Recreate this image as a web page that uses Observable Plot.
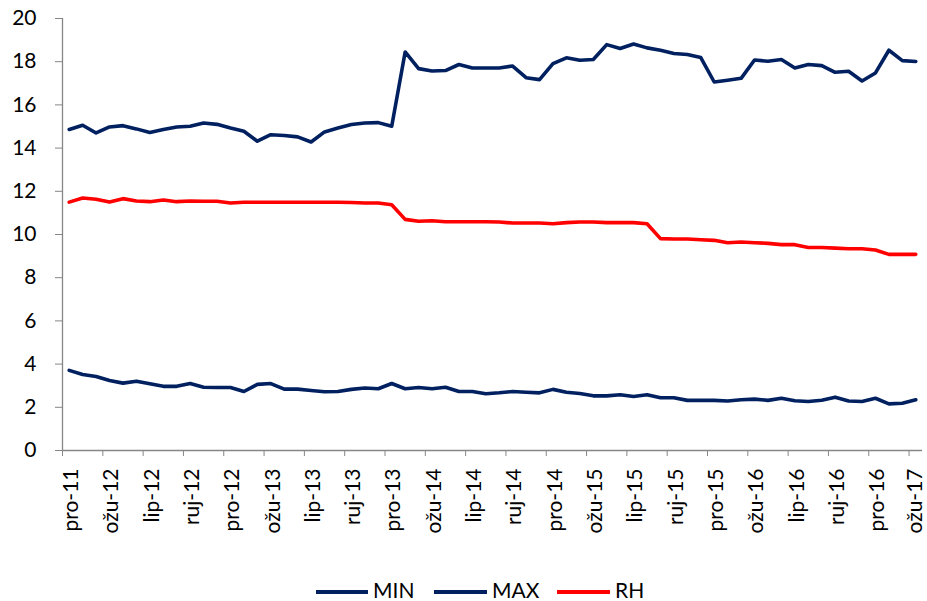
<!DOCTYPE html>
<html>
<head>
<meta charset="utf-8">
<script src="https://cdn.jsdelivr.net/npm/d3@7"></script>
<script src="https://cdn.jsdelivr.net/npm/@observablehq/plot@0.6"></script>
<style>
  html, body { margin: 0; padding: 0; background: #fff; }
  body { position: relative; width: 927px; height: 601px; overflow: hidden; font-family: Lato, sans-serif; }
  #chart svg { display: block; }
  .lg-line { position: absolute; height: 4px; top: 590px; }
  .lg-text { position: absolute; top: 576px; font-size: 21px; line-height: 28px; color: #000; }
</style>
</head>
<body>
<div id="chart"></div>
<div class="lg-line" style="left:316px;width:52px;background:#002060"></div>
<div class="lg-text" style="left:373px">MIN</div>
<div class="lg-line" style="left:434px;width:53px;background:#002060"></div>
<div class="lg-text" style="left:492px">MAX</div>
<div class="lg-line" style="left:557px;width:53px;background:#ff0000"></div>
<div class="lg-text" style="left:615px">RH</div>
<script>
const months = [
  "pro-11",
  "sij-12","velj-12","ožu-12","tra-12","svi-12","lip-12","srp-12","kol-12","ruj-12","lis-12","stu-12","pro-12",
  "sij-13","velj-13","ožu-13","tra-13","svi-13","lip-13","srp-13","kol-13","ruj-13","lis-13","stu-13","pro-13",
  "sij-14","velj-14","ožu-14","tra-14","svi-14","lip-14","srp-14","kol-14","ruj-14","lis-14","stu-14","pro-14",
  "sij-15","velj-15","ožu-15","tra-15","svi-15","lip-15","srp-15","kol-15","ruj-15","lis-15","stu-15","pro-15",
  "sij-16","velj-16","ožu-16","tra-16","svi-16","lip-16","srp-16","kol-16","ruj-16","lis-16","stu-16","pro-16",
  "sij-17","velj-17","ožu-17"
];

const maxValues = [
  14.86, 15.06, 14.70, 14.98, 15.04, 14.89, 14.72, 14.86, 14.98, 15.01,
  15.16, 15.10, 14.93, 14.78, 14.32, 14.62, 14.58, 14.52, 14.28, 14.75,
  14.93, 15.09, 15.16, 15.18, 15.01, 18.45, 17.68, 17.57, 17.59, 17.87,
  17.71, 17.71, 17.71, 17.80, 17.26, 17.17, 17.91, 18.18, 18.07, 18.10,
  18.79, 18.61, 18.82, 18.64, 18.53, 18.38, 18.33, 18.19, 17.06, 17.14,
  17.23, 18.08, 18.02, 18.10, 17.71, 17.87, 17.82, 17.51, 17.56, 17.11,
  17.48, 18.53, 18.05, 18.01
];

const minValues = [
  3.71, 3.52, 3.43, 3.24, 3.12, 3.21, 3.09, 2.97, 2.97, 3.10,
  2.93, 2.92, 2.92, 2.73, 3.06, 3.10, 2.84, 2.84, 2.78, 2.72,
  2.73, 2.83, 2.89, 2.86, 3.10, 2.86, 2.92, 2.86, 2.93, 2.73,
  2.73, 2.63, 2.67, 2.73, 2.70, 2.67, 2.83, 2.70, 2.64, 2.53,
  2.53, 2.58, 2.50, 2.58, 2.44, 2.44, 2.32, 2.32, 2.32, 2.29,
  2.35, 2.38, 2.32, 2.42, 2.30, 2.27, 2.33, 2.47, 2.29, 2.27,
  2.42, 2.16, 2.19, 2.35
];

const rhValues = [
  11.50, 11.69, 11.63, 11.50, 11.66, 11.55, 11.52, 11.60, 11.52, 11.55,
  11.54, 11.54, 11.46, 11.49, 11.49, 11.49, 11.49, 11.49, 11.49, 11.49,
  11.49, 11.48, 11.46, 11.46, 11.38, 10.70, 10.61, 10.64, 10.59, 10.59,
  10.59, 10.59, 10.58, 10.53, 10.53, 10.53, 10.50, 10.55, 10.58, 10.58,
  10.55, 10.55, 10.55, 10.50, 9.81, 9.79, 9.79, 9.76, 9.73, 9.62,
  9.65, 9.62, 9.59, 9.53, 9.53, 9.40, 9.40, 9.37, 9.34, 9.34,
  9.28, 9.08, 9.08, 9.08
];

const yTicks = [0, 2, 4, 6, 8, 10, 12, 14, 16, 18, 20];
const tickEvery = 3;

const data = months.map((m, i) => ({
  pos: i + 0.5, month: m, MIN: minValues[i], MAX: maxValues[i], RH: rhValues[i]
}));
const boundaryTicks = months.map((m, i) => i).filter(i => i % tickEvery === 0);
const labelTicks = boundaryTicks.map(i => i + 0.5);
const labelTicksMain = labelTicks.slice(0, -1);
const labelTicksLast = labelTicks.slice(-1);

const gray = "#868686";
const labelOpts = { tickSize: 0, tickPadding: 18, tickRotate: -90, fill: "#000", label: null, tickFormat: d => months[Math.round(d - 0.5)] };

const chart = Plot.plot({
  width: 927,
  height: 570,
  marginLeft: 62,
  marginRight: 5,
  marginTop: 18,
  marginBottom: 120,
  style: { fontFamily: "Lato, sans-serif", fontSize: "21px", color: "#000", background: "#fff" },
  x: { domain: [0, months.length], axis: null, label: null },
  y: { domain: [0, 20], axis: null, label: null },
  marks: [
    Plot.axisY(yTicks, { tickSize: 7, tickPadding: 19, stroke: gray, strokeOpacity: 1, fill: "#000", label: null, tickFormat: d => String(d) }),
    Plot.axisX(boundaryTicks, { tickSize: 6, stroke: gray, strokeOpacity: 1, label: null, tickFormat: () => "" }),
    Plot.axisX(labelTicksMain, { ...labelOpts, dx: 2 }),
    Plot.axisX(labelTicksLast, { ...labelOpts, dx: -1 }),
    Plot.ruleY([0], { stroke: gray, strokeWidth: 1.3 }),
    Plot.ruleX([0], { stroke: gray, strokeWidth: 1.3 }),
    Plot.line(data, { x: "pos", y: "MIN", stroke: "#002060", strokeWidth: 3.6, strokeLinejoin: "round", strokeLinecap: "round" }),
    Plot.line(data, { x: "pos", y: "MAX", stroke: "#002060", strokeWidth: 3.6, strokeLinejoin: "round", strokeLinecap: "round" }),
    Plot.line(data, { x: "pos", y: "RH", stroke: "#ff0000", strokeWidth: 3.6, strokeLinejoin: "round", strokeLinecap: "round" })
  ]
});
document.getElementById("chart").appendChild(chart);
</script>
</body>
</html>
